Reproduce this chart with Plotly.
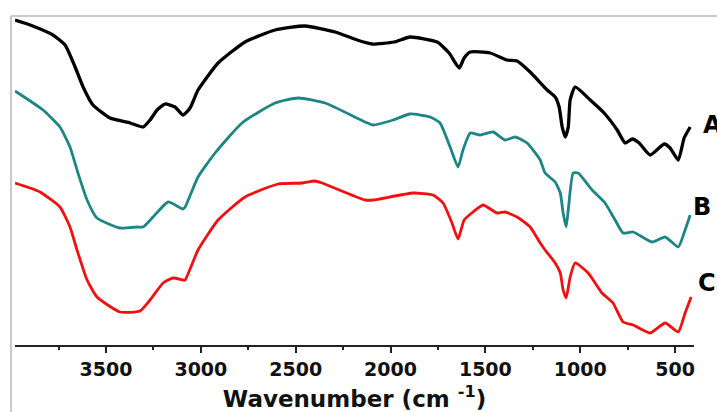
import plotly.graph_objects as go

# Wavenumber (cm^-1) and transmittance (arbitrary units)
wn_A = [3980, 3900, 3780, 3716, 3663, 3621, 3569, 3479, 3373, 3305, 3268, 3231, 3189, 3136, 3094,
        3057, 3015, 2909, 2767, 2609, 2451, 2292, 2176, 2097, 1981, 1897, 1754, 1691, 1638, 1612,
        1580, 1475, 1385, 1333, 1264, 1174, 1132, 1111, 1095, 1079, 1063, 1053, 1027, 947, 874,
        805, 763, 725, 689, 631, 557, 526, 483, 452, 420]
t_A = [325, 320, 310, 300, 278, 258, 240, 227, 222, 218, 225, 235, 241, 238, 230,
       237, 255, 282, 303, 315, 319, 313, 305, 301, 303, 308, 303, 292, 277, 287,
       293, 292, 285, 284, 273, 255, 248, 238, 218, 208, 218, 245, 258, 245, 232,
       215, 202, 206, 202, 190, 201, 197, 185, 207, 218]

wn_B = [3980, 3900, 3832, 3743, 3690, 3648, 3600, 3548, 3426, 3337, 3305, 3252, 3173, 3094, 3083,
        3015, 2925, 2783, 2609, 2487, 2345, 2134, 2092, 1986, 1897, 1791, 1739, 1686, 1644, 1618,
        1580, 1527, 1459, 1396, 1343, 1280, 1211, 1185, 1132, 1105, 1090, 1074, 1063, 1037, 1011,
        937, 869, 816, 774, 721, 621, 552, 483, 447, 420]
t_B = [254, 244, 235, 218, 198, 172, 145, 127, 117, 118, 118, 128, 143, 136, 138,
       168, 192, 222, 242, 247, 242, 223, 220, 225, 231, 228, 222, 198, 178, 195,
       212, 210, 213, 205, 208, 202, 185, 172, 163, 152, 132, 118, 135, 172, 172,
       155, 142, 125, 112, 113, 103, 108, 98, 115, 130]

wn_C = [3980, 3900, 3848, 3743, 3690, 3653, 3600, 3548, 3426, 3321, 3268, 3199, 3147, 3094, 3083,
        3015, 2909, 2767, 2593, 2466, 2400, 2361, 2134, 2092, 1881, 1776, 1723, 1676, 1644, 1612,
        1565, 1512, 1438, 1396, 1333, 1264, 1211, 1185, 1132, 1105, 1090, 1074, 1053, 1027, 958,
        885, 827, 774, 721, 631, 552, 483, 447, 415]
t_C = [162, 157, 153, 138, 118, 95, 65, 48, 33, 34, 45, 62, 67, 65, 65,
       95, 125, 148, 161, 162, 164, 162, 145, 145, 152, 150, 142, 122, 106, 125,
       133, 140, 132, 133, 128, 118, 102, 95, 82, 72, 55, 47, 68, 82, 72,
       52, 42, 23, 20, 12, 22, 13, 32, 48]

series = [("A", wn_A, t_A, "#000000", 3.3),
          ("B", wn_B, t_B, "#1e8585", 2.8),
          ("C", wn_C, t_C, "#f01010", 2.8)]

major_ticks = [3500, 3000, 2500, 2000, 1500, 1000, 500]
minor_ticks = [3750, 3250, 2750, 2250, 1750, 1250, 750]

W, H = 717, 412
ML, MR, MT, MB = 15, 23, 16, 67

fig = go.Figure()
for name, x, y, col, lw in series:
    fig.add_trace(go.Scatter(x=x, y=y, mode="lines", name=name,
                             line=dict(color=col, width=lw, shape="spline", smoothing=0.5),
                             showlegend=False, hoverinfo="skip"))

pw = W - ML - MR
ph = H - MT - MB

# series labels placed just right of each curve end
label_pos = {"A": (1.0105, 2), "B": (0.996, 8), "C": (1.003, 14)}
for name, x, y, col, lw in series:
    px_, dy = label_pos[name]
    fig.add_annotation(x=px_, xref="paper", y=y[-1] + dy, yref="y",
                       text=name, showarrow=False, xanchor="left", yanchor="middle",
                       font=dict(family="DejaVu Sans", size=24, color="#000000", weight="bold"))

bx = (11 - ML) / pw
fig.add_shape(type="line", xref="paper", yref="paper", x0=bx, x1=bx, y0=1.0, y1=-0.3,
              line=dict(color="#b8b8b8", width=1.5))
fig.add_shape(type="line", xref="paper", yref="paper", x0=bx, x1=1.1, y0=1.0, y1=1.0,
              line=dict(color="#b8b8b8", width=1.5))

fig.update_layout(
    width=W, height=H,
    margin=dict(l=ML, r=MR, t=MT, b=MB, autoexpand=False),
    paper_bgcolor="white", plot_bgcolor="white",
    xaxis=dict(range=[3980, 400], tickvals=major_ticks,
               ticktext=[str(v) for v in major_ticks],
               automargin=False,
               ticks="outside", ticklen=6, tickwidth=1.5, tickcolor="#222",
               showline=True, linecolor="#222", linewidth=1.5,
               showgrid=False, zeroline=False,
               minor=dict(tickvals=minor_ticks, ticks="outside", ticklen=3,
                          tickwidth=1.5, tickcolor="#222", showgrid=False),
               tickfont=dict(family="DejaVu Sans", size=19, color="#111", weight="bold"),
               title=dict(text="Wavenumber (cm <sup>-1</sup>)", standoff=12,
                          font=dict(family="DejaVu Sans", size=23, color="#111", weight="bold"))),
    yaxis=dict(range=[0, 329], visible=False, automargin=False),
)

fig.write_html("out.html", config={"displayModeBar": False},
               post_script="document.body.style.margin='0';document.body.style.overflow='hidden';")
